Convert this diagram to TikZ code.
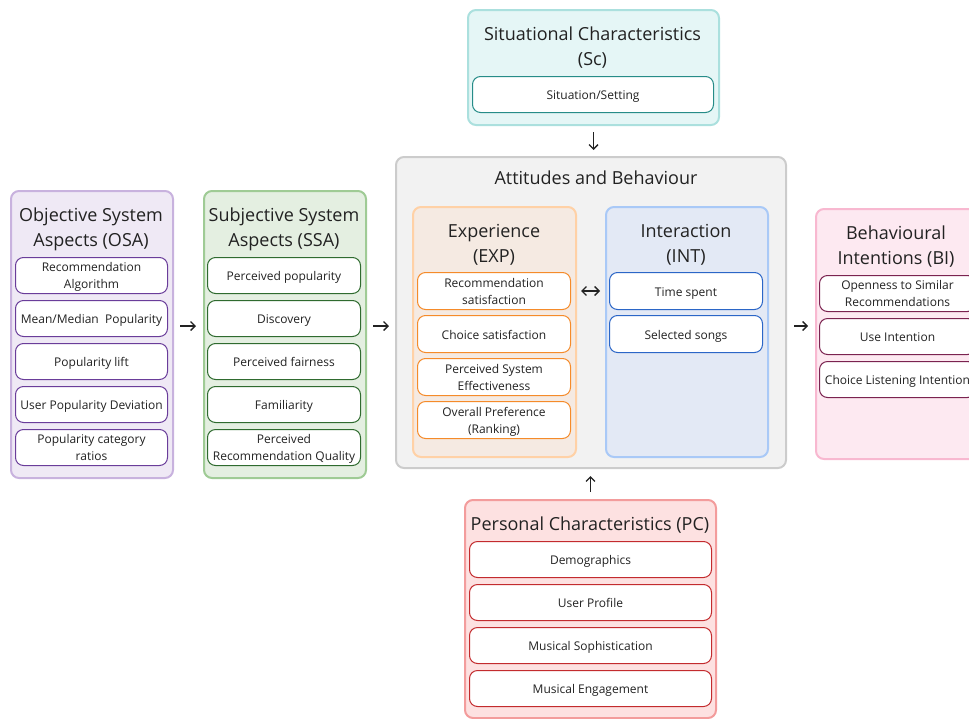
\documentclass[tikz,border=0pt]{standalone}
\usepackage{fontspec}
\setmainfont{Open Sans}
\usetikzlibrary{arrows.meta,calc}
\newcommand\myTopStrut{\rule{0pt}{13pt}}
\definecolor{txt}{HTML}{222222}
\definecolor{osaF}{HTML}{EFE9F5}\definecolor{osaB}{HTML}{C8B2DE}\definecolor{osaI}{HTML}{6A3D9A}
\definecolor{ssaF}{HTML}{E4EFE1}\definecolor{ssaB}{HTML}{9FCB95}\definecolor{ssaI}{HTML}{2F6B2F}
\definecolor{abF}{HTML}{F2F2F2}\definecolor{abB}{HTML}{CCCCCC}
\definecolor{expF}{HTML}{F5EAE2}\definecolor{expB}{HTML}{FFD1A6}\definecolor{expI}{HTML}{F58B2A}
\definecolor{intF}{HTML}{E3E9F5}\definecolor{intB}{HTML}{A9C9F7}\definecolor{intI}{HTML}{2B66C7}
\definecolor{biF}{HTML}{FDE9F1}\definecolor{biB}{HTML}{F8B8D0}\definecolor{biI}{HTML}{7B2350}
\definecolor{scF}{HTML}{E5F6F6}\definecolor{scB}{HTML}{ABE0DE}\definecolor{scI}{HTML}{268C88}
\definecolor{pcF}{HTML}{FDE1E1}\definecolor{pcB}{HTML}{F39C9C}\definecolor{pcI}{HTML}{C32B2E}
\tikzset{
  outer/.style={draw, rounded corners=8, line width=2, anchor=north west, inner sep=0},
  item/.style={draw, fill=white, rounded corners=8, line width=1, align=center, anchor=north west,
    font=\fontsize{12}{17}\selectfont, text=txt, inner sep=0, minimum height=36,
    execute at end node={\rule[-4pt]{0pt}{0pt}}},
  one/.style={execute at begin node={\rule{0pt}{14pt}}},
  two/.style={},
  ttl/.style={align=center, font=\fontsize{18}{25}\selectfont, text=txt, inner sep=0},
  arr/.style={-{Straight Barb[length=4.5,width=9,line width=1.3]}, line width=1.3, txt},
  darr/.style={{Straight Barb[length=4.5,width=9,line width=1.3]}-{Straight Barb[length=4.5,width=9,line width=1.3]}, line width=1.3, txt}
}
\begin{document}
\begin{tikzpicture}[x=1pt,y=-1pt]
\useasboundingbox (0,0) rectangle (969,718);
\clip (0,0) rectangle (969,718);
% OSA
\node[outer, fill=osaF, draw=osaB, minimum width=162, minimum height=287] (osa) at (10,190) {};
\node[ttl] (osat) at (91,229.5) {Objective System\\Aspects (OSA)};
\foreach \n/\y/\s/\t in {1/257/two/{\myTopStrut Recommendation\\Algorithm},2/300/one/{Mean/Median\ \ Popularity},3/343/one/{Popularity lift},4/386/one/{User Popularity Deviation},5/429/two/{\myTopStrut Popularity category\\ratios}}
  \node[item, \s, draw=osaI, minimum width=152] (osa\n) at (15,\y) {\t};
% SSA
\node[outer, fill=ssaF, draw=ssaB, minimum width=162, minimum height=287] (ssa) at (203,190) {};
\node[ttl] (ssat) at (284,229.5) {Subjective System\\Aspects (SSA)};
\foreach \n/\y/\s/\t in {1/257/one/{Perceived popularity},2/300/one/{Discovery},3/343/one/{Perceived fairness},4/386/one/{Familiarity},5/429/two/{\myTopStrut Perceived\\Recommendation Quality}}
  \node[item, \s, draw=ssaI, minimum width=153] (ssa\n) at (207,\y) {\t};
% AB
\node[outer, fill=abF, draw=abB, minimum width=390, minimum height=311] (ab) at (395,156) {};
\node[ttl] (abt) at (596,178) {Attitudes and Behaviour};
% EXP
\node[outer, fill=expF, draw=expB, minimum width=163, minimum height=250] (exp) at (412,206) {};
\node[ttl] (expt) at (494,244.5) {Experience\\(EXP)};
\foreach \n/\y/\s/\t in {1/272/two/{\myTopStrut Recommendation\\satisfaction},2/315/one/{Choice satisfaction},3/358/two/{\myTopStrut Perceived System\\Effectiveness},4/401/two/{\myTopStrut Overall Preference\\(Ranking)}}
  \node[item, \s, draw=expI, minimum width=153, minimum height=37] (exp\n) at (417,\y) {\t};
% INT
\node[outer, fill=intF, draw=intB, minimum width=162, minimum height=250] (int) at (605,206) {};
\node[ttl] (intt) at (686,244.5) {Interaction\\(INT)};
\foreach \n/\y/\s/\t in {1/272/one/{Time spent},2/315/one/{Selected songs}}
  \node[item, \s, draw=intI, minimum width=153, minimum height=37] (int\n) at (609,\y) {\t};
% BI
\node[outer, fill=biF, draw=biB, minimum width=170, minimum height=250] (bi) at (815,208) {};
\node[ttl] (bit) at (896,246.5) {Behavioural\\Intentions (BI)};
\foreach \n/\y/\s/\t in {1/275/two/{\myTopStrut Openness to Similar\\Recommendations},2/318/one/{Use Intention},3/361/one/{Choice Listening Intention}}
  \node[item, \s, draw=biI, minimum width=156] (bi\n) at (819,\y) {\t};
% Sc
\node[outer, fill=scF, draw=scB, minimum width=251, minimum height=115] (sc) at (467,9) {};
\node[ttl] (sct) at (592.5,47.5) {Situational Characteristics\\(Sc)};
\node[item, one, draw=scI, minimum width=241] (sc1) at (472,76) {Situation/Setting};
% PC
\node[outer, fill=pcF, draw=pcB, minimum width=251, minimum height=218] (pc) at (464,499) {};
\node[ttl] (pct) at (590,525) {Personal Characteristics (PC)};
\foreach \n/\y/\s/\t in {1/541/one/{Demographics},2/584/one/{User Profile},3/627/one/{Musical Sophistication},4/670/one/{Musical Engagement}}
  \node[item, \s, draw=pcI, minimum width=242] (pc\n) at (469,\y) {\t};
% arrows
\coordinate (ay) at ([yshift=8.5]osa.east);
\draw[arr, shorten <=6, shorten >=7] (ay) -- (ssa.west |- ay);
\draw[arr, shorten <=6, shorten >=6] (ssa.east |- ay) -- (ab.west |- ay);
\draw[arr, shorten <=7, shorten >=7] (ab.east |- ay) -- (bi.west |- ay);
\draw[darr, shorten <=4, shorten >=5] (exp.east |- exp1.center) -- (int.west |- exp1.center);
\draw[arr, shorten <=6, shorten >=6] (sc.south) -- (ab.north -| sc.south);
\draw[arr, shorten <=7, shorten >=7] (pc.north) -- (ab.south -| pc.north);
\end{tikzpicture}
\end{document}
